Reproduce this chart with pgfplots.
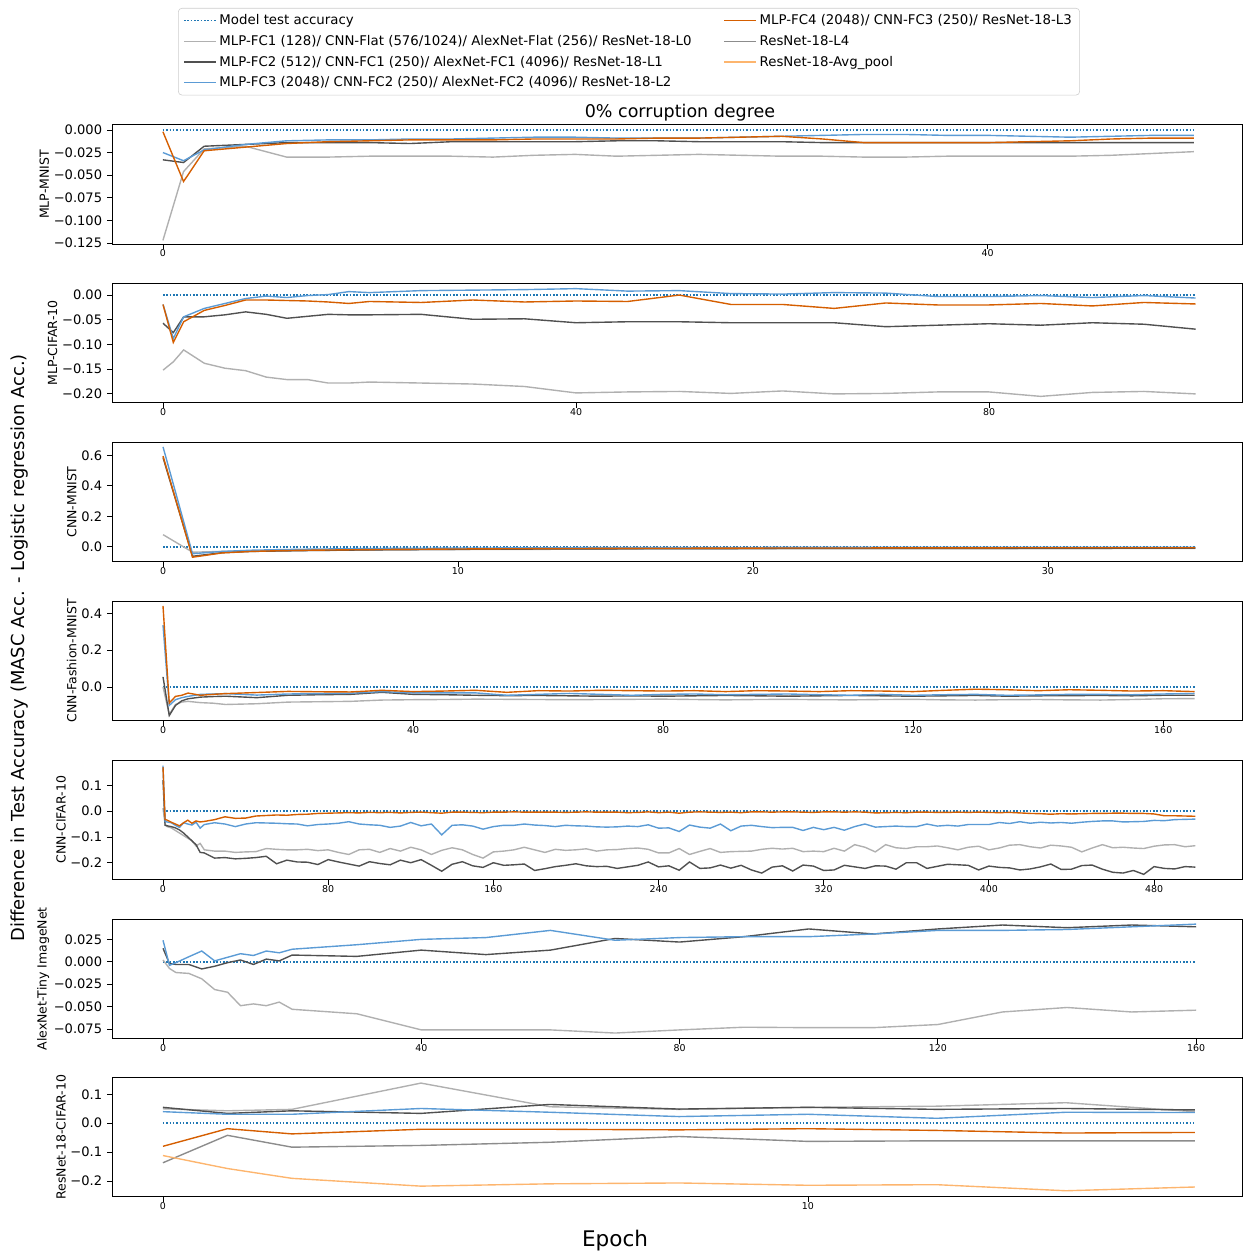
\documentclass[border=0pt]{standalone}
\usepackage{fontspec}
\setmainfont{DejaVu Sans}
\usepackage{pgfplots}
\pgfplotsset{compat=1.18}
\usepackage{pgfplotstable}

\definecolor{cmod}{HTML}{1F77B4}
\definecolor{cfc1}{HTML}{B0B0B0}
\definecolor{cfc2}{HTML}{505050}
\definecolor{cfc3}{HTML}{5B9BD5}
\definecolor{cfc4}{HTML}{D55E00}
\definecolor{cl4}{HTML}{8C8C8C}
\definecolor{cavg}{HTML}{FDB56E}

\pgfplotsset{
  panel/.style={scale only axis, width=813.6pt, height=86.04pt, anchor=north west,
    tick pos=left, tick align=outside, major tick length=3.6pt,
    axis line style={black, line width=0.7pt}, tick style={black, line width=0.6pt},
    xticklabel style={font=\fontsize{6.8}{8}\selectfont, yshift=3pt},
    yticklabel style={font=\fontsize{9.4}{11}\selectfont},
    ylabel style={font=\fontsize{9}{11}\selectfont, yshift=-3.5pt},
    /pgf/number format/assume math mode=true, scaled ticks=false},
  smod/.style={cmod, line width=1.1pt, dash pattern=on 1.1pt off 1.3pt},
  sfc1/.style={cfc1, line width=1pt},
  sfc2/.style={cfc2, line width=1pt},
  sfc3/.style={cfc3, line width=1pt},
  sfc4/.style={cfc4, line width=1pt},
  sl4/.style={cl4, line width=1pt},
  savg/.style={cavg, line width=1pt},
}

\pgfplotstableread{
x a b c d
0 -0.122 -0.033 -0.025 -0.002
1 -0.046 -0.036 -0.034 -0.057
2 -0.021 -0.018 -0.022 -0.023
4 -0.018 -0.016 -0.016 -0.019
6 -0.030 -0.014 -0.012 -0.015
8 -0.030 -0.014 -0.011 -0.013
10 -0.029 -0.014 -0.011 -0.012
12 -0.029 -0.015 -0.010 -0.011
14 -0.029 -0.013 -0.010 -0.011
16 -0.030 -0.013 -0.009 -0.011
18 -0.028 -0.013 -0.008 -0.010
20 -0.027 -0.013 -0.008 -0.010
22 -0.029 -0.012 -0.009 -0.010
24 -0.028 -0.012 -0.009 -0.009
26 -0.027 -0.013 -0.009 -0.009
28 -0.028 -0.013 -0.008 -0.008
30 -0.029 -0.013 -0.007 -0.007
32 -0.029 -0.014 -0.006 -0.010
34 -0.030 -0.014 -0.005 -0.014
36 -0.030 -0.014 -0.005 -0.014
38 -0.029 -0.014 -0.006 -0.014
40 -0.029 -0.014 -0.006 -0.014
42 -0.029 -0.014 -0.007 -0.013
44 -0.029 -0.014 -0.008 -0.012
46 -0.028 -0.014 -0.007 -0.010
48 -0.026 -0.014 -0.006 -0.009
50 -0.024 -0.014 -0.006 -0.009
}\tA

\pgfplotstableread{
x a b c d
0 -0.152 -0.057 -0.019 -0.019
1 -0.135 -0.076 -0.088 -0.096
2 -0.111 -0.044 -0.044 -0.054
4 -0.138 -0.044 -0.027 -0.031
6 -0.148 -0.040 -0.017 -0.021
8 -0.153 -0.034 -0.007 -0.010
10 -0.166 -0.039 -0.002 -0.010
12 -0.171 -0.047 -0.005 -0.011
14 -0.171 -0.043 -0.001 -0.012
16 -0.178 -0.039 0.001 -0.014
18 -0.178 -0.040 0.007 -0.017
20 -0.176 -0.040 0.005 -0.013
25 -0.178 -0.039 0.009 -0.015
30 -0.180 -0.049 0.010 -0.010
35 -0.185 -0.048 0.011 -0.014
40 -0.198 -0.056 0.013 -0.012
45 -0.196 -0.054 0.008 -0.013
50 -0.195 -0.054 0.009 0.000
55 -0.199 -0.056 0.003 -0.019
60 -0.194 -0.056 0.002 -0.019
65 -0.200 -0.056 0.005 -0.027
70 -0.199 -0.064 0.004 -0.016
75 -0.196 -0.061 -0.003 -0.020
80 -0.196 -0.058 -0.003 -0.020
85 -0.205 -0.061 -0.001 -0.017
90 -0.197 -0.056 -0.005 -0.022
95 -0.195 -0.059 -0.001 -0.015
100 -0.200 -0.069 -0.006 -0.018
}\tB

\pgfplotstableread{
x a b c d
0 0.080 0.585 0.655 0.595
1 -0.035 -0.062 -0.045 -0.068
2 -0.030 -0.038 -0.030 -0.040
3 -0.028 -0.030 -0.022 -0.030
4 -0.026 -0.027 -0.018 -0.025
5 -0.024 -0.024 -0.015 -0.022
7 -0.021 -0.020 -0.011 -0.018
10 -0.018 -0.016 -0.008 -0.014
15 -0.015 -0.013 -0.005 -0.010
20 -0.013 -0.011 -0.004 -0.008
25 -0.012 -0.010 -0.003 -0.007
30 -0.011 -0.010 -0.003 -0.006
35 -0.011 -0.009 -0.003 -0.006
}\tC

\pgfplotstableread{
x a b c d
0 0.000 0.055 0.336 0.440
1 -0.149 -0.155 -0.100 -0.087
2 -0.095 -0.100 -0.069 -0.051
3 -0.082 -0.075 -0.058 -0.045
4 -0.078 -0.064 -0.051 -0.033
6 -0.085 -0.055 -0.040 -0.045
8 -0.088 -0.052 -0.038 -0.040
10 -0.095 -0.050 -0.036 -0.036
15 -0.091 -0.058 -0.044 -0.030
20 -0.082 -0.045 -0.038 -0.024
25 -0.080 -0.042 -0.036 -0.026
30 -0.078 -0.040 -0.034 -0.027
35 -0.071 -0.029 -0.025 -0.018
40 -0.069 -0.040 -0.032 -0.025
45 -0.068 -0.042 -0.032 -0.022
50 -0.066 -0.045 -0.032 -0.018
55 -0.067 -0.047 -0.045 -0.029
60 -0.068 -0.046 -0.040 -0.020
65 -0.069 -0.048 -0.035 -0.022
70 -0.068 -0.050 -0.040 -0.018
75 -0.067 -0.048 -0.045 -0.020
80 -0.066 -0.050 -0.040 -0.022
85 -0.068 -0.048 -0.038 -0.020
90 -0.070 -0.046 -0.042 -0.025
95 -0.068 -0.048 -0.040 -0.020
100 -0.067 -0.050 -0.038 -0.022
105 -0.069 -0.048 -0.042 -0.025
110 -0.070 -0.046 -0.045 -0.020
115 -0.068 -0.048 -0.040 -0.022
120 -0.067 -0.050 -0.045 -0.025
125 -0.070 -0.048 -0.042 -0.018
130 -0.071 -0.046 -0.040 -0.012
135 -0.069 -0.050 -0.045 -0.015
140 -0.068 -0.048 -0.043 -0.020
145 -0.070 -0.047 -0.040 -0.015
150 -0.071 -0.046 -0.040 -0.018
155 -0.068 -0.048 -0.042 -0.022
160 -0.064 -0.045 -0.038 -0.020
165 -0.063 -0.045 -0.035 -0.025
}\tD

\pgfplotstableread{
x a b c d
0 0.012 0.120 0.176 0.170
1 -0.050 -0.055 -0.040 -0.032
2 -0.060 -0.057 -0.042 -0.035
4 -0.065 -0.060 -0.045 -0.043
6 -0.075 -0.065 -0.055 -0.050
8 -0.085 -0.073 -0.063 -0.057
10 -0.095 -0.085 -0.045 -0.045
12 -0.105 -0.100 -0.050 -0.035
14 -0.115 -0.115 -0.054 -0.047
16 -0.135 -0.130 -0.043 -0.038
18 -0.125 -0.160 -0.066 -0.042
20 -0.150 -0.162 -0.052 -0.040
25 -0.155 -0.182 -0.045 -0.033
30 -0.155 -0.180 -0.050 -0.022
35 -0.160 -0.185 -0.060 -0.028
40 -0.158 -0.183 -0.050 -0.027
45 -0.157 -0.180 -0.045 -0.019
50 -0.145 -0.175 -0.046 -0.017
55 -0.148 -0.204 -0.047 -0.015
60 -0.150 -0.190 -0.049 -0.016
65 -0.150 -0.197 -0.050 -0.013
70 -0.148 -0.198 -0.057 -0.012
75 -0.153 -0.207 -0.052 -0.009
80 -0.150 -0.188 -0.050 -0.008
85 -0.160 -0.197 -0.047 -0.007
90 -0.168 -0.205 -0.041 -0.006
95 -0.150 -0.213 -0.050 -0.007
100 -0.148 -0.196 -0.053 -0.005
105 -0.160 -0.203 -0.055 -0.006
110 -0.145 -0.208 -0.063 -0.005
115 -0.155 -0.190 -0.058 -0.007
120 -0.140 -0.200 -0.044 -0.005
125 -0.150 -0.188 -0.057 -0.004
130 -0.168 -0.210 -0.050 -0.006
135 -0.152 -0.233 -0.092 -0.008
140 -0.142 -0.206 -0.055 -0.004
145 -0.150 -0.196 -0.053 -0.004
150 -0.168 -0.212 -0.058 -0.005
155 -0.182 -0.218 -0.070 -0.006
160 -0.158 -0.200 -0.060 -0.004
165 -0.155 -0.210 -0.055 -0.004
170 -0.150 -0.208 -0.055 -0.003
175 -0.140 -0.205 -0.050 -0.004
180 -0.150 -0.230 -0.054 -0.004
185 -0.160 -0.223 -0.056 -0.004
190 -0.148 -0.215 -0.060 -0.004
195 -0.152 -0.210 -0.055 -0.005
200 -0.150 -0.204 -0.057 -0.004
205 -0.146 -0.212 -0.058 -0.003
210 -0.155 -0.215 -0.061 -0.004
215 -0.150 -0.214 -0.062 -0.004
220 -0.149 -0.222 -0.061 -0.004
225 -0.145 -0.216 -0.058 -0.006
230 -0.143 -0.210 -0.060 -0.005
235 -0.148 -0.197 -0.053 -0.003
240 -0.162 -0.216 -0.066 -0.006
245 -0.162 -0.212 -0.065 -0.004
250 -0.145 -0.229 -0.079 -0.008
255 -0.168 -0.197 -0.054 -0.004
260 -0.156 -0.222 -0.062 -0.003
265 -0.145 -0.220 -0.066 -0.004
270 -0.160 -0.209 -0.050 -0.005
275 -0.157 -0.221 -0.076 -0.004
280 -0.156 -0.210 -0.058 -0.006
285 -0.155 -0.228 -0.055 -0.003
290 -0.148 -0.240 -0.060 -0.003
295 -0.144 -0.217 -0.064 -0.004
300 -0.147 -0.212 -0.063 -0.003
305 -0.144 -0.232 -0.063 -0.003
310 -0.157 -0.209 -0.075 -0.004
315 -0.155 -0.213 -0.063 -0.005
320 -0.157 -0.230 -0.072 -0.003
325 -0.144 -0.228 -0.063 -0.003
330 -0.155 -0.210 -0.074 -0.004
335 -0.130 -0.216 -0.060 -0.003
340 -0.140 -0.222 -0.050 -0.004
345 -0.158 -0.212 -0.062 -0.007
350 -0.130 -0.213 -0.060 -0.006
355 -0.142 -0.225 -0.058 -0.005
360 -0.145 -0.200 -0.060 -0.006
365 -0.138 -0.200 -0.060 -0.004
370 -0.138 -0.222 -0.050 -0.004
375 -0.135 -0.214 -0.058 -0.005
380 -0.142 -0.206 -0.055 -0.005
385 -0.150 -0.208 -0.058 -0.004
390 -0.140 -0.210 -0.052 -0.005
395 -0.136 -0.228 -0.052 -0.004
400 -0.150 -0.213 -0.052 -0.005
405 -0.143 -0.218 -0.044 -0.006
410 -0.132 -0.220 -0.048 -0.005
415 -0.130 -0.228 -0.041 -0.007
420 -0.138 -0.224 -0.047 -0.009
425 -0.143 -0.216 -0.043 -0.010
430 -0.132 -0.205 -0.046 -0.012
435 -0.135 -0.226 -0.044 -0.010
440 -0.140 -0.225 -0.047 -0.011
445 -0.158 -0.211 -0.043 -0.010
450 -0.143 -0.209 -0.040 -0.009
455 -0.130 -0.225 -0.038 -0.009
460 -0.142 -0.237 -0.038 -0.008
465 -0.140 -0.240 -0.042 -0.008
470 -0.143 -0.230 -0.041 -0.009
475 -0.145 -0.245 -0.040 -0.009
480 -0.136 -0.215 -0.036 -0.011
485 -0.131 -0.222 -0.037 -0.018
490 -0.130 -0.224 -0.033 -0.018
495 -0.138 -0.215 -0.032 -0.019
500 -0.134 -0.217 -0.031 -0.020
}\tE

\pgfplotstableread{
x a b c
0 0.002 0.015 0.024
1 -0.0075 -0.002 -0.004
2 -0.012 -0.003 -0.001
4 -0.013 -0.003 0.0056
6 -0.019 -0.008 0.012
8 -0.031 -0.005 0.001
10 -0.034 -0.001 0.005
12 -0.049 0.002 0.009
14 -0.047 -0.003 0.007
16 -0.049 0.003 0.012
18 -0.045 0.001 0.010
20 -0.053 0.0075 0.014
30 -0.058 0.006 0.019
40 -0.076 0.013 0.025
50 -0.076 0.008 0.027
60 -0.076 0.013 0.035
70 -0.0795 0.026 0.024
80 -0.076 0.022 0.027
90 -0.073 0.028 0.028
100 -0.0735 0.0366 0.028
110 -0.0735 0.031 0.031
120 -0.070 0.0366 0.035
130 -0.056 0.041 0.035
140 -0.051 0.038 0.036
150 -0.056 0.041 0.039
160 -0.054 0.039 0.042
}\tF

\pgfplotstableread{
x a b c d e f
0 0.050 0.055 0.040 -0.080 -0.137 -0.112
1 0.043 0.034 0.031 -0.019 -0.042 -0.157
2 0.048 0.043 0.031 -0.037 -0.083 -0.191
4 0.139 0.034 0.051 -0.021 -0.077 -0.218
6 0.057 0.065 0.038 -0.021 -0.066 -0.210
8 0.048 0.049 0.023 -0.023 -0.046 -0.207
10 0.055 0.055 0.031 -0.019 -0.063 -0.215
12 0.059 0.048 0.017 -0.025 -0.061 -0.213
14 0.071 0.051 0.038 -0.034 -0.061 -0.234
16 0.040 0.046 0.037 -0.032 -0.061 -0.221
}\tG

\begin{document}
\begin{tikzpicture}
\path[use as bounding box] (0pt,0pt) rectangle (894.96pt,-900.72pt);

% Panel 1
\begin{axis}[panel, at={(80.64pt,-89.78pt)},
  xmin=-2.47, xmax=52.34, ymin=-0.1262, ymax=0.0058,
  xtick={0,40},
  ytick={-0.125,-0.1,-0.075,-0.05,-0.025,0},
  yticklabels={−0.125,−0.100,−0.075,−0.050,−0.025,0.000},
  ylabel={MLP-MNIST},
  legend columns=2,
  legend cell align=left,
  legend image code/.code={\draw[#1] (0pt,0pt) -- (23pt,0pt);},
  legend style={at={(axis description cs:0.4575,1.9766)}, anchor=north,
    draw=black!20, rounded corners=2.5pt, fill=white,
    font=\fontsize{9.6}{11}\selectfont,
    row sep=2.1pt, inner xsep=3.5pt, inner ysep=2.5pt,
    /tikz/every even column/.append style={column sep=21pt}},
]
\addlegendimage{smod}\addlegendentry{Model test accuracy}
\addlegendimage{sfc4}\addlegendentry{MLP-FC4 (2048)/ CNN-FC3 (250)/ ResNet-18-L3}
\addlegendimage{sfc1}\addlegendentry{MLP-FC1 (128)/ CNN-Flat (576/1024)/ AlexNet-Flat (256)/ ResNet-18-L0}
\addlegendimage{sl4}\addlegendentry{ResNet-18-L4}
\addlegendimage{sfc2}\addlegendentry{MLP-FC2 (512)/ CNN-FC1 (250)/ AlexNet-FC1 (4096)/ ResNet-18-L1}
\addlegendimage{savg}\addlegendentry{ResNet-18-Avg\_pool}
\addlegendimage{sfc3}\addlegendentry{MLP-FC3 (2048)/ CNN-FC2 (250)/ AlexNet-FC2 (4096)/ ResNet-18-L2}
\addplot[smod, forget plot] coordinates {(0,0) (50,0)};
\addplot[sfc1, forget plot] table[x=x,y=a]{\tA};
\addplot[sfc2, forget plot] table[x=x,y=b]{\tA};
\addplot[sfc3, forget plot] table[x=x,y=c]{\tA};
\addplot[sfc4, forget plot] table[x=x,y=d]{\tA};
\end{axis}

% Panel 2
\begin{axis}[panel, at={(80.64pt,-203.98pt)},
  xmin=-4.94, xmax=104.5, ymin=-0.218, ymax=0.0238,
  xtick={0,40,80},
  ytick={-0.2,-0.15,-0.1,-0.05,0},
  yticklabels={−0.20,−0.15,−0.10,−0.05,0.00},
  ylabel={MLP-CIFAR-10}]
\addplot[smod] coordinates {(0,0) (100,0)};
\addplot[sfc1] table[x=x,y=a]{\tB};
\addplot[sfc2] table[x=x,y=b]{\tB};
\addplot[sfc3] table[x=x,y=c]{\tB};
\addplot[sfc4] table[x=x,y=d]{\tB};
\end{axis}

% Panel 3
\begin{axis}[panel, at={(80.64pt,-318.46pt)},
  xmin=-1.73, xmax=36.58, ymin=-0.098, ymax=0.685,
  xtick={0,10,20,30},
  ytick={0,0.2,0.4,0.6},
  yticklabels={0.0,0.2,0.4,0.6},
  ylabel={CNN-MNIST}]
\addplot[smod] coordinates {(0,0) (35,0)};
\addplot[sfc1] table[x=x,y=a]{\tC};
\addplot[sfc2] table[x=x,y=b]{\tC};
\addplot[sfc3] table[x=x,y=c]{\tC};
\addplot[sfc4] table[x=x,y=d]{\tC};
\end{axis}

% Panel 4
\begin{axis}[panel, at={(80.64pt,-432.72pt)},
  xmin=-8.16, xmax=172.6, ymin=-0.182, ymax=0.467,
  xtick={0,40,80,120,160},
  ytick={0,0.2,0.4},
  yticklabels={0.0,0.2,0.4},
  ylabel={CNN-Fashion-MNIST}]
\addplot[smod] coordinates {(0,0) (165,0)};
\addplot[sfc1] table[x=x,y=a]{\tD};
\addplot[sfc2] table[x=x,y=b]{\tD};
\addplot[sfc3] table[x=x,y=c]{\tD};
\addplot[sfc4] table[x=x,y=d]{\tD};
\end{axis}

% Panel 5
\begin{axis}[panel, at={(80.64pt,-547.2pt)},
  xmin=-24.7, xmax=522.6, ymin=-0.265, ymax=0.198,
  xtick={0,80,160,240,320,400,480},
  ytick={-0.2,-0.1,0,0.1},
  yticklabels={−0.2,−0.1,0.0,0.1},
  ylabel={CNN-CIFAR-10}]
\addplot[smod] coordinates {(0,0) (500,0)};
\addplot[sfc1] table[x=x,y=a]{\tE};
\addplot[sfc2] table[x=x,y=b]{\tE};
\addplot[sfc3] table[x=x,y=c]{\tE};
\addplot[sfc4] table[x=x,y=d]{\tE};
\end{axis}

% Panel 6
\begin{axis}[panel, at={(80.64pt,-661.68pt)},
  xmin=-7.9, xmax=167.1, ymin=-0.0856, ymax=0.0477,
  xtick={0,40,80,120,160},
  ytick={-0.075,-0.05,-0.025,0,0.025},
  yticklabels={−0.075,−0.050,−0.025,0.000,0.025},
  ylabel={AlexNet-Tiny ImageNet}]
\addplot[smod] coordinates {(0,0) (160,0)};
\addplot[sfc1] table[x=x,y=a]{\tF};
\addplot[sfc2] table[x=x,y=b]{\tF};
\addplot[sfc3] table[x=x,y=c]{\tF};
\end{axis}

% Panel 7
\begin{axis}[panel, at={(80.64pt,-775.66pt)},
  xmin=-0.79, xmax=16.73, ymin=-0.255, ymax=0.159,
  xtick={0,10},
  ytick={-0.2,-0.1,0,0.1},
  yticklabels={−0.2,−0.1,0.0,0.1},
  ylabel={ResNet-18-CIFAR-10}]
\addplot[smod] coordinates {(0,0) (16,0)};
\addplot[sfc1] table[x=x,y=a]{\tG};
\addplot[sfc2] table[x=x,y=b]{\tG};
\addplot[sfc3] table[x=x,y=c]{\tG};
\addplot[sfc4] table[x=x,y=d]{\tG};
\addplot[sl4] table[x=x,y=e]{\tG};
\addplot[savg] table[x=x,y=f]{\tG};
\end{axis}

\node[font=\fontsize{12.6}{14}\selectfont] at (489.6pt,-80.8pt) {0\% corruption degree};
\node[font=\fontsize{15.5}{18}\selectfont] at (442.8pt,-893.5pt) {Epoch};
\node[font=\fontsize{12.9}{15}\selectfont, rotate=90] at (14.4pt,-466.5pt) {Difference in Test Accuracy (MASC Acc. - Logistic regression Acc.)};
\end{tikzpicture}
\end{document}
